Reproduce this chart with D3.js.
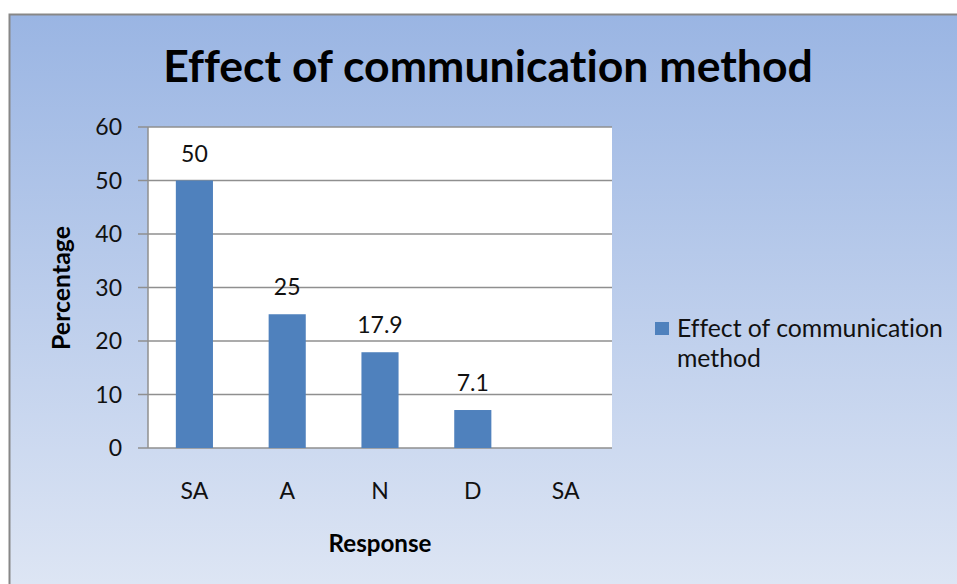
<!DOCTYPE html>
<html>
<head>
<meta charset="utf-8">
<script src="https://cdnjs.cloudflare.com/ajax/libs/d3/7.8.5/d3.min.js"></script>
<style>
  html, body { margin: 0; padding: 0; background: #fff; }
  svg { display: block; }
  text { font-variant-ligatures: none; }
</style>
</head>
<body>
<div id="chart"></div>
<script>
const categories = ["SA", "A", "N", "D", "SA "];
const values = [50, 25, 17.9, 7.1, null];
const valueLabels = ["50", "25", "17.9", "7.1", ""];
const yTicks = [0, 10, 20, 30, 40, 50, 60];
const chartTitle = "Effect of communication method";
const seriesName = ["Effect of communication", "method"];

function drawChart() {
  const w = 957;
  const h = 584;
  const font = "Lato, 'Open Sans', sans-serif";
  const small = "23px";

  const plot = { left: 148, top: 127, right: 612, bottom: 448 };

  const svg = d3.select("#chart")
    .append("svg")
    .attr("width", w)
    .attr("height", h);

  // background gradient
  const defs = svg.append("defs");
  const grad = defs.append("linearGradient")
    .attr("id", "bg")
    .attr("x1", 0).attr("y1", 0)
    .attr("x2", 0).attr("y2", 1);
  grad.append("stop").attr("offset", "0%").attr("stop-color", "#9ab5e3");
  grad.append("stop").attr("offset", "100%").attr("stop-color", "#e1e8f5");

  svg.append("rect")
    .attr("x", 9.5).attr("y", 14.5)
    .attr("width", w + 20).attr("height", h + 20)
    .attr("fill", "url(#bg)")
    .attr("stroke", "#878787")
    .attr("stroke-width", 2);

  const xScale = d3.scaleBand()
    .domain(categories)
    .range([plot.left, plot.right])
    .paddingInner(0.6)
    .paddingOuter(0.3);

  const yScale = d3.scaleLinear()
    .domain([0, 60])
    .range([plot.bottom, plot.top]);

  // white plot area
  svg.append("rect")
    .attr("x", plot.left).attr("y", plot.top)
    .attr("width", plot.right - plot.left)
    .attr("height", plot.bottom - plot.top)
    .attr("fill", "#fff");

  // gridlines
  svg.append("g")
    .selectAll("line")
    .data(yTicks)
    .join("line")
    .attr("x1", plot.left - 10)
    .attr("x2", plot.right)
    .attr("y1", (d) => yScale(d))
    .attr("y2", (d) => yScale(d))
    .attr("stroke", "#8f8f8f")
    .attr("stroke-width", 1.5);

  // y axis line
  svg.append("line")
    .attr("x1", plot.left).attr("x2", plot.left)
    .attr("y1", plot.top).attr("y2", plot.bottom)
    .attr("stroke", "#8f8f8f")
    .attr("stroke-width", 1.5);

  // y tick labels
  svg.append("g")
    .selectAll("text")
    .data(yTicks)
    .join("text")
    .attr("x", 122)
    .attr("y", (d) => yScale(d) + 8)
    .attr("text-anchor", "end")
    .attr("font-family", font)
    .attr("font-size", small)
    .attr("fill", "#111")
    .text((d) => d);

  // bars
  const data = categories.map((c, i) => ({ cat: c, value: values[i], label: valueLabels[i] }));
  svg.append("g")
    .selectAll("rect")
    .data(data.filter((d) => d.value != null))
    .join("rect")
    .attr("x", (d) => xScale(d.cat))
    .attr("y", (d) => yScale(d.value))
    .attr("width", xScale.bandwidth())
    .attr("height", (d) => plot.bottom - yScale(d.value))
    .attr("fill", "#4f81bd");

  // value labels
  svg.append("g")
    .selectAll("text")
    .data(data.filter((d) => d.value != null))
    .join("text")
    .attr("x", (d) => xScale(d.cat) + xScale.bandwidth() / 2)
    .attr("y", (d) => yScale(d.value) - 19)
    .attr("text-anchor", "middle")
    .attr("font-family", font)
    .attr("font-size", small)
    .attr("fill", "#111")
    .text((d) => d.label);

  // x tick labels
  svg.append("g")
    .selectAll("text")
    .data(categories)
    .join("text")
    .attr("x", (d) => xScale(d) + xScale.bandwidth() / 2)
    .attr("y", 499)
    .attr("text-anchor", "middle")
    .attr("font-family", font)
    .attr("font-size", small)
    .attr("fill", "#111")
    .text((d) => d.trim());

  // fit a text element to a width
  function fitWidth(sel, size, target) {
    const tw = sel.node().getComputedTextLength();
    if (tw > 0) sel.attr("font-size", (size * target / tw) + "px");
  }

  // title
  const title = svg.append("text")
    .attr("x", 488)
    .attr("y", 82)
    .attr("text-anchor", "middle")
    .attr("font-family", font)
    .attr("font-weight", "bold")
    .attr("font-size", "40px")
    .attr("fill", "#000")
    .text(chartTitle);
  fitWidth(title, 40, 650);

  // axis titles
  const xTitle = svg.append("text")
    .attr("x", 380)
    .attr("y", 552)
    .attr("text-anchor", "middle")
    .attr("font-family", font)
    .attr("font-weight", "bold")
    .attr("font-size", "22px")
    .attr("fill", "#000")
    .text("Response");
  fitWidth(xTitle, 22, 103);

  const yTitle = svg.append("text")
    .attr("transform", "translate(70,288) rotate(-90)")
    .attr("text-anchor", "middle")
    .attr("font-family", font)
    .attr("font-weight", "bold")
    .attr("font-size", "22px")
    .attr("fill", "#000")
    .text("Percentage");
  fitWidth(yTitle, 22, 124);

  // legend
  const legend = svg.append("g");
  legend.append("rect")
    .attr("x", 655).attr("y", 322)
    .attr("width", 14).attr("height", 13)
    .attr("fill", "#4f81bd");
  const legendText = legend.selectAll("text")
    .data(seriesName)
    .join("text")
    .attr("x", 677)
    .attr("y", (d, i) => 337 + i * 30)
    .attr("font-family", font)
    .attr("font-size", "24px")
    .attr("fill", "#111")
    .text((d) => d);
  const lw = legendText.node().getComputedTextLength();
  if (lw > 0) legendText.attr("font-size", (24 * 266 / lw) + "px");
}

window.addEventListener("load", drawChart);
</script>
</body>
</html>
